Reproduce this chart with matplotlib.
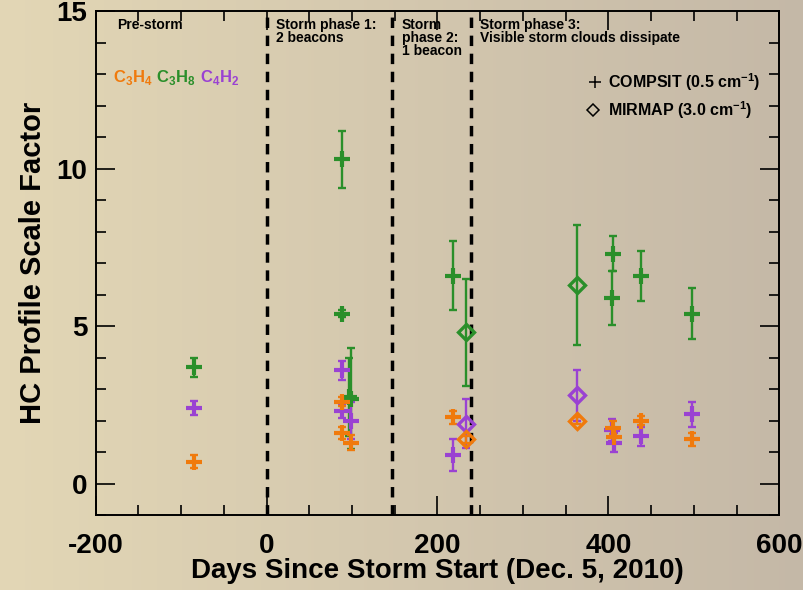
import numpy as np
import matplotlib
matplotlib.use("Agg")
import matplotlib.pyplot as plt
from matplotlib.ticker import MultipleLocator

plt.rcParams['font.family'] = ['Liberation Sans', 'DejaVu Sans']
plt.rcParams['mathtext.fontset'] = 'custom'
plt.rcParams['mathtext.rm'] = 'Liberation Sans:bold'
plt.rcParams['mathtext.bf'] = 'Liberation Sans:bold'

ORANGE = '#f07a0c'
GREEN = '#2a8f2a'
PURPLE = '#9a42d2'

# ---- data: COMPSIT (plus markers) ----
c3h4_day = [-85, 88, 88, 99, 218, 405, 406, 438, 498]
c3h4_val = [0.70, 2.60, 1.60, 1.30, 2.10, 1.78, 1.48, 2.00, 1.40]
c3h4_err = [0.20, 0.15, 0.20, 0.24, 0.20, 0.20, 0.18, 0.15, 0.22]

c3h8_day = [-85, 88, 88, 97, 99, 218, 405, 404, 438, 498]
c3h8_val = [3.70, 10.30, 5.40, 2.75, 2.70, 6.60, 7.30, 5.90, 6.60, 5.40]
c3h8_err = [0.30, 0.90, 0.12, 1.25, 1.60, 1.10, 0.55, 0.85, 0.80, 0.80]

c4h2_day = [-85, 88, 88, 99, 218, 404, 406, 438, 498]
c4h2_val = [2.40, 3.60, 2.30, 2.00, 0.90, 1.70, 1.30, 1.50, 2.20]
c4h2_err = [0.22, 0.30, 0.23, 0.60, 0.50, 0.35, 0.30, 0.30, 0.40]

# ---- data: MIRMAP (diamond markers) ----
mir_day = [233, 363]
mir_c3h4 = [1.40, 2.00]
mir_c3h4_err = [0.10, 0.10]
mir_c3h8 = [4.80, 6.30]
mir_c3h8_err = [1.70, 1.90]
mir_c4h2 = [1.90, 2.80]
mir_c4h2_err = [0.78, 0.80]

phase_bounds = [0, 147, 239]
phase_labels = ["Pre-storm", "Storm phase 1:\n2 beacons", "Storm\nphase 2:\n1 beacon",
                "Storm phase 3:\nVisible storm clouds dissipate"]
phase_label_x = [-175, 11, 158, 250]

fig = plt.figure(figsize=(8.04, 5.90), dpi=100)

# background gradient
bg = fig.add_axes([0, 0, 1, 1], zorder=-10)
bg.axis('off')
c1 = np.array([0.890, 0.843, 0.712])
c2 = np.array([0.770, 0.722, 0.655])
t = np.linspace(0, 1, 256)
grad = (c1[None, :] * (1 - t[:, None]) + c2[None, :] * t[:, None])[None, :, :]
bg.imshow(grad, aspect='auto', extent=[0, 1, 0, 1])
bg.set_xlim(0, 1); bg.set_ylim(0, 1)

ax = fig.add_axes([0.1188, 0.127, 0.8507, 0.854])
ax.patch.set_alpha(0)
ax.set_xlim(-200, 600)
ax.set_ylim(-1, 15)

for b in phase_bounds:
    ax.axvline(b, color='black', lw=2.5, dashes=(3, 2.2), zorder=1)

def plus_series(days, vals, errs, color):
    ax.errorbar(days, vals, yerr=errs, fmt='none', ecolor=color, elinewidth=1.7,
                capsize=3, capthick=1.7, zorder=3)
    ax.plot(days, vals, linestyle='none', marker='+', markersize=11.5, mew=3,
            color=color, zorder=4)

def diamond_series(days, vals, errs, color):
    ax.errorbar(days, vals, yerr=errs, fmt='none', ecolor=color, elinewidth=1.7,
                capsize=3, capthick=1.7, zorder=3)
    ax.plot(days, vals, linestyle='none', marker='D', markersize=8.5, mew=2.4,
            mfc='none', mec=color, zorder=4)

plus_series(c3h8_day, c3h8_val, c3h8_err, GREEN)
plus_series(c4h2_day, c4h2_val, c4h2_err, PURPLE)
plus_series(c3h4_day, c3h4_val, c3h4_err, ORANGE)
diamond_series(mir_day, mir_c3h8, mir_c3h8_err, GREEN)
diamond_series(mir_day, mir_c4h2, mir_c4h2_err, PURPLE)
diamond_series(mir_day, mir_c3h4, mir_c3h4_err, ORANGE)

# ticks
ax.xaxis.set_minor_locator(MultipleLocator(50))
ax.yaxis.set_minor_locator(MultipleLocator(1))
ax.set_xticks([-200, 0, 200, 400, 600])
ax.set_xticklabels(['-200', '0', '200', '400', '600'], fontweight='bold', fontsize=20)
ax.set_yticks([0, 5, 10, 15])
ax.set_yticklabels(['0', '5', '10', '15'], fontweight='bold', fontsize=20)
ax.tick_params(which='both', direction='in', top=True, right=True, width=1.2, color='black')
ax.tick_params(which='major', length=14)
ax.tick_params(which='minor', length=7)
ax.tick_params(axis='x', which='major', pad=13)
ax.tick_params(axis='y', which='major', pad=6)
for sp in ax.spines.values():
    sp.set_linewidth(1.4)

ax.set_xlabel('Days Since Storm Start (Dec. 5, 2010)', fontsize=20, fontweight='bold')
ax.xaxis.set_label_coords(0.5, -0.085)
ax.set_ylabel('HC Profile Scale Factor', fontsize=21, fontweight='bold')
ax.yaxis.set_label_coords(-0.071, 0.5)

# phase labels
for x, s in zip(phase_label_x, phase_labels):
    ax.text(x, 14.8, s, fontsize=10, fontweight='bold', va='top', ha='left',
            linespacing=0.92)

# species labels
ax.text(-180, 12.75, r'C$_\mathbf{3}$H$_\mathbf{4}$', color=ORANGE, fontsize=12, fontweight='bold')
ax.text(-129, 12.75, r'C$_\mathbf{3}$H$_\mathbf{8}$', color=GREEN, fontsize=12, fontweight='bold')
ax.text(-78, 12.75, r'C$_\mathbf{4}$H$_\mathbf{2}$', color=PURPLE, fontsize=12, fontweight='bold')

# legend (manual)
ax.plot([384], [12.75], marker='+', color='black', markersize=9, mew=1.1, linestyle='none')
ax.text(400, 12.75, r'COMPSIT (0.5 cm$^{\mathbf{-1}}$)', fontsize=11.5, fontweight='bold', va='center')
ax.plot([382], [11.85], marker='D', color='black', markersize=6.5, mew=1.1, mfc='none',
        linestyle='none')
ax.text(400, 11.85, r'MIRMAP (3.0 cm$^{\mathbf{-1}}$)', fontsize=11.5, fontweight='bold', va='center')

fig.savefig('out.png', dpi=100)
